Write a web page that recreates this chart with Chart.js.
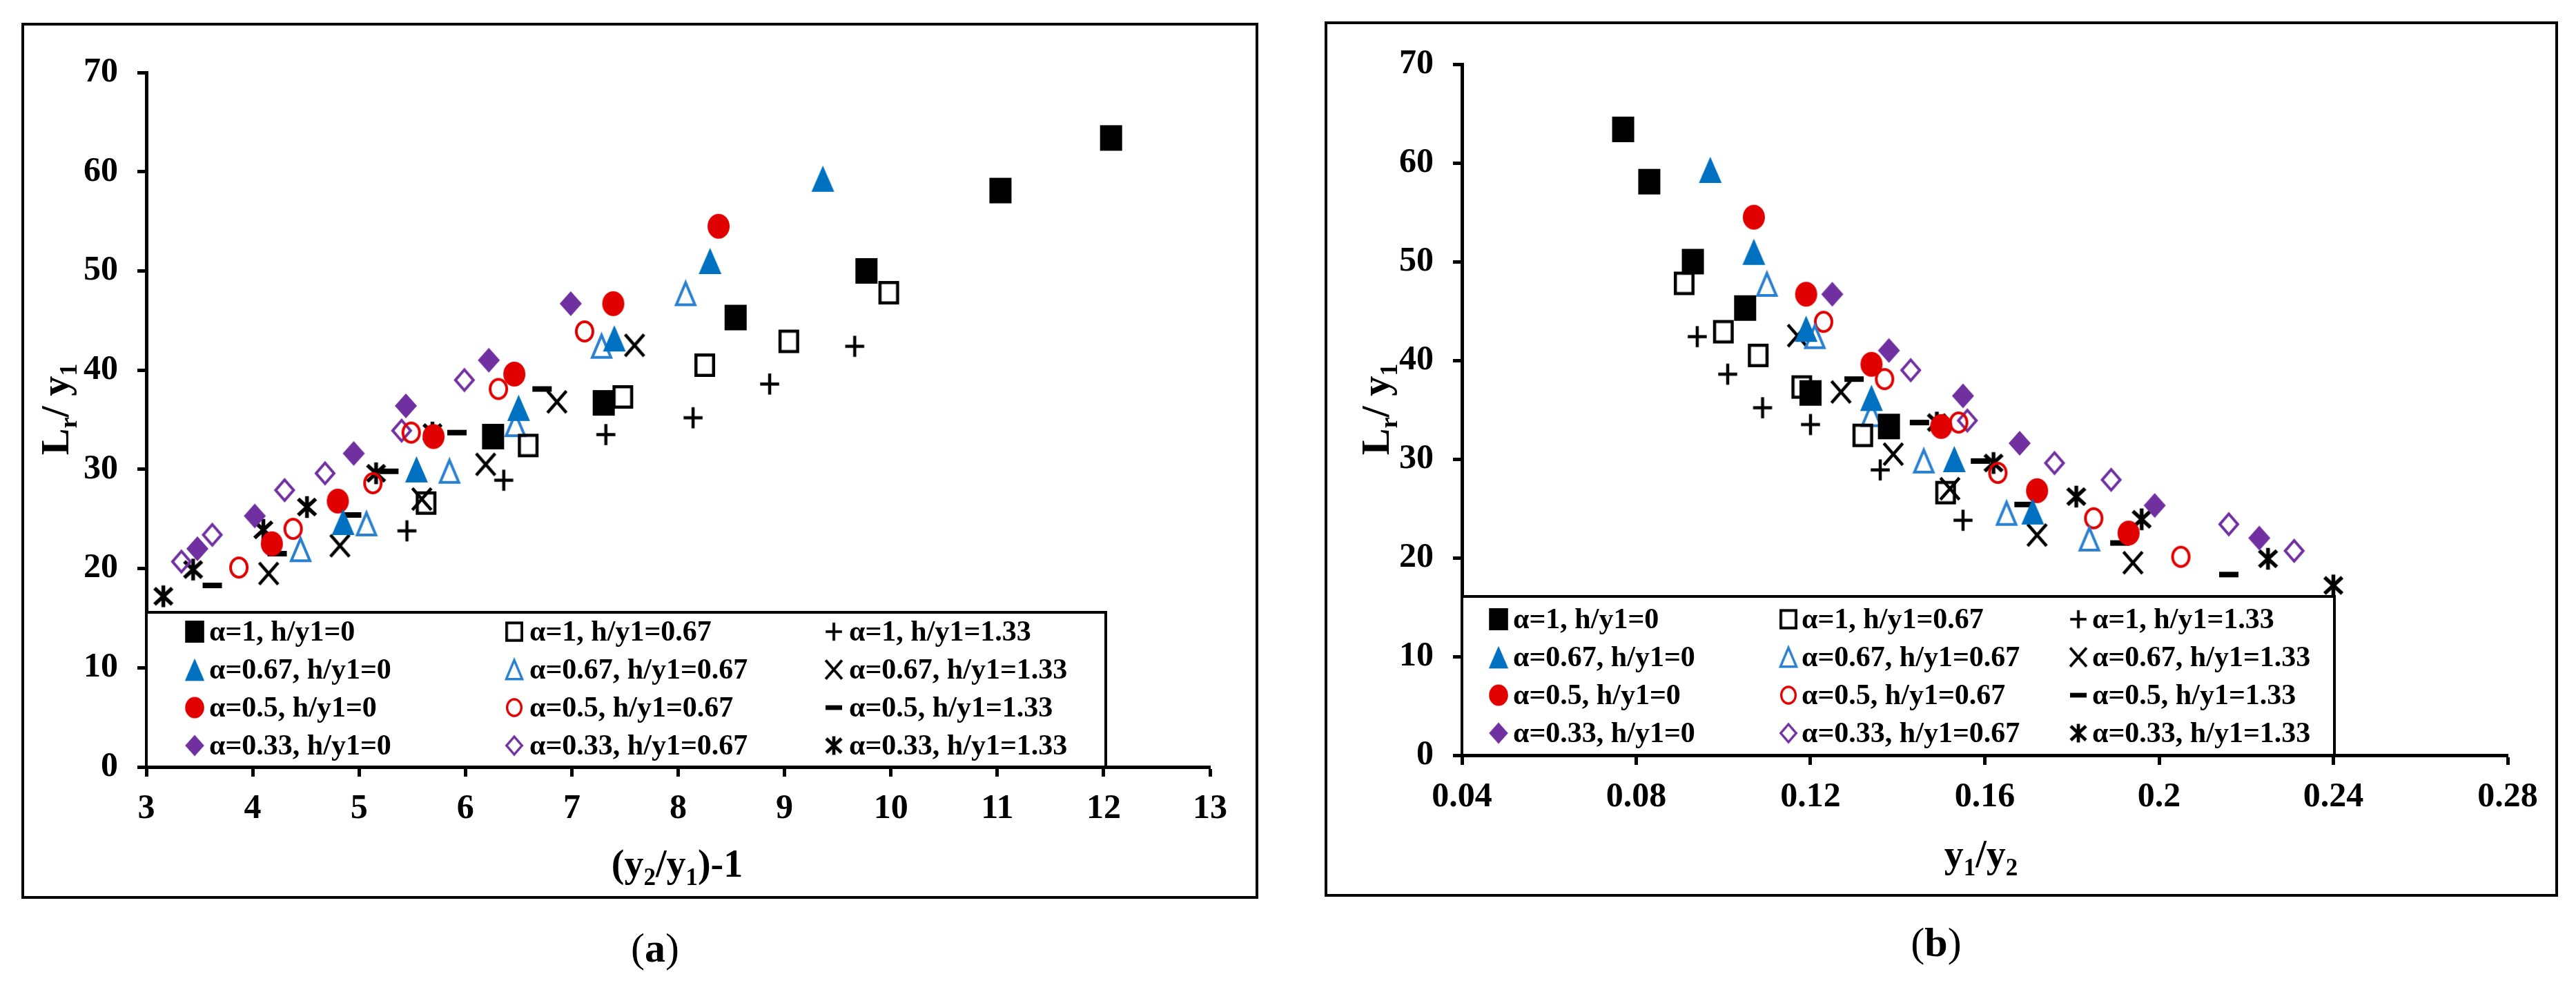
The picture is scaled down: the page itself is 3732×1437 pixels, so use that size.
<!DOCTYPE html>
<html>
<head>
<meta charset="utf-8">
<script src="https://cdn.jsdelivr.net/npm/chart.js@4.4.0/dist/chart.umd.min.js"></script>
<style>
    html, body { margin: 0; padding: 0; background: #fff; }
    body { width: 3732px; height: 1437px; position: relative; overflow: hidden; font-family: 'Liberation Serif', 'Times New Roman', serif; }
    .panel { position: absolute; box-sizing: border-box; border: 4px solid #000; background: #fff; }
    .panel canvas { position: absolute; left: 0; top: 0; }
    .cap { position: absolute; font-size: 60px; color: #000; transform: translate(-50%, -50%); white-space: nowrap; }
</style>
</head>
<body>
<div class="panel" style="left:31px;top:33px;width:1792px;height:1269px"><canvas id="chartA" width="1784" height="1261"></canvas></div>
<div class="panel" style="left:1919px;top:31px;width:1787px;height:1268px"><canvas id="chartB" width="1779" height="1260"></canvas></div>
<div class="cap" style="left:949px;top:1373px">(<b>a</b>)</div>
<div class="cap" style="left:2805px;top:1365px">(<b>b</b>)</div>
<script>
// legend labels (row = alpha, column = h/y1)
const seriesLabels = [
    'α=1, h/y1=0', 'α=1, h/y1=0.67', 'α=1, h/y1=1.33',
    'α=0.67, h/y1=0', 'α=0.67, h/y1=0.67', 'α=0.67, h/y1=1.33',
    'α=0.5, h/y1=0', 'α=0.5, h/y1=0.67', 'α=0.5, h/y1=1.33',
    'α=0.33, h/y1=0', 'α=0.33, h/y1=0.67', 'α=0.33, h/y1=1.33'
];

// Lr / y1 (same values in both panels)
const lr_a1_h0 = [33.3, 36.7, 45.3, 50.0, 58.1, 63.4];
const lr_a1_h067 = [26.6, 32.4, 37.3, 40.5, 42.9, 47.8];
const lr_a1_h133 = [23.8, 28.9, 33.5, 35.2, 38.6, 42.4];
const lr_a067_h0 = [24.7, 30.0, 36.2, 43.2, 51.0, 59.3];
const lr_a067_h067 = [21.9, 24.5, 29.8, 34.5, 42.4, 47.7];
const lr_a067_h133 = [19.5, 22.3, 27.0, 30.5, 36.8, 42.5];
const lr_a05_h0 = [22.5, 26.8, 33.3, 39.6, 46.7, 54.5];
const lr_a05_h067 = [20.1, 24.0, 28.6, 33.7, 38.1, 43.9];
const lr_a05_h133 = [18.3, 21.5, 25.4, 29.8, 33.7, 38.1];
const lr_a033_h0 = [22.0, 25.3, 31.6, 36.4, 41.0, 46.7];
const lr_a033_h067 = [20.7, 23.4, 27.9, 29.6, 33.9, 39.0];
const lr_a033_h133 = [17.2, 19.9, 23.9, 26.2, 29.6, 33.7];

// panel (a): (y2/y1)-1
const xa_a1_h0 = [6.26, 7.30, 8.54, 9.77, 11.03, 12.07];
const xa_a1_h067 = [5.63, 6.59, 7.48, 8.25, 9.04, 9.98];
const xa_a1_h133 = [5.45, 6.36, 7.32, 8.14, 8.86, 9.66];
const xa_a067_h0 = [4.85, 5.54, 6.50, 7.40, 8.30, 9.36];
const xa_a067_h067 = [4.45, 5.07, 5.85, 6.47, 7.28, 8.07];
const xa_a067_h133 = [4.15, 4.82, 5.59, 6.19, 6.86, 7.59];
const xa_a05_h0 = [4.18, 4.80, 5.70, 6.46, 7.39, 8.38];
const xa_a05_h067 = [3.87, 4.38, 5.13, 5.49, 6.31, 7.12];
const xa_a05_h133 = [3.62, 4.23, 4.93, 5.28, 5.92, 6.72];
const xa_a033_h0 = [3.48, 4.02, 4.95, 5.44, 6.22, 6.99];
const xa_a033_h067 = [3.33, 3.62, 4.30, 4.68, 5.40, 5.99];
const xa_a033_h133 = [3.16, 3.44, 4.10, 4.51, 5.16, 5.69];

// panel (b): y1/y2
const xb_a1_h0 = [0.138, 0.120, 0.105, 0.093, 0.083, 0.077];
const xb_a1_h067 = [0.151, 0.132, 0.118, 0.108, 0.100, 0.091];
const xb_a1_h133 = [0.155, 0.136, 0.120, 0.109, 0.101, 0.094];
const xb_a067_h0 = [0.171, 0.153, 0.134, 0.119, 0.107, 0.097];
const xb_a067_h067 = [0.184, 0.165, 0.146, 0.134, 0.121, 0.110];
const xb_a067_h133 = [0.194, 0.172, 0.152, 0.139, 0.127, 0.117];
const xb_a05_h0 = [0.193, 0.172, 0.150, 0.134, 0.119, 0.107];
const xb_a05_h067 = [0.205, 0.185, 0.163, 0.154, 0.137, 0.123];
const xb_a05_h133 = [0.216, 0.191, 0.169, 0.159, 0.145, 0.130];
const xb_a033_h0 = [0.223, 0.199, 0.168, 0.155, 0.138, 0.125];
const xb_a033_h067 = [0.231, 0.216, 0.189, 0.176, 0.156, 0.143];
const xb_a033_h133 = [0.240, 0.225, 0.196, 0.181, 0.162, 0.149];

const lrSeries = [lr_a1_h0, lr_a1_h067, lr_a1_h133, lr_a067_h0, lr_a067_h067, lr_a067_h133,
    lr_a05_h0, lr_a05_h067, lr_a05_h133, lr_a033_h0, lr_a033_h067, lr_a033_h133];
const xaSeries = [xa_a1_h0, xa_a1_h067, xa_a1_h133, xa_a067_h0, xa_a067_h067, xa_a067_h133,
    xa_a05_h0, xa_a05_h067, xa_a05_h133, xa_a033_h0, xa_a033_h067, xa_a033_h133];
const xbSeries = [xb_a1_h0, xb_a1_h067, xb_a1_h133, xb_a067_h0, xb_a067_h067, xb_a067_h133,
    xb_a05_h0, xb_a05_h067, xb_a05_h133, xb_a033_h0, xb_a033_h067, xb_a033_h133];

const BLACK = '#000000';
const BLUE = '#0070C0';
const BLUE_OPEN = '#2A80CF';
const RED = '#E00000';
const PURPLE = '#7030A0';
const FONT = '"Liberation Serif", "Times New Roman", serif';

// marker look for each series
const markerSpecs = [
    { kind: 'square', fill: true, color: BLACK, w: 32, h: 37 },
    { kind: 'square', fill: false, color: BLACK, w: 30, h: 34, lw: 4.5 },
    { kind: 'plus', color: BLACK, w: 32, h: 35, lw: 4.5 },
    { kind: 'triangle', fill: true, color: BLUE, w: 33, h: 38 },
    { kind: 'triangle', fill: false, color: BLUE_OPEN, w: 31, h: 36, lw: 4 },
    { kind: 'x', color: BLACK, w: 32, h: 36, lw: 4.5 },
    { kind: 'circle', fill: true, color: RED, w: 32, h: 36 },
    { kind: 'circle', fill: false, color: RED, w: 28, h: 32, lw: 4 },
    { kind: 'dash', color: BLACK, w: 28, h: 8 },
    { kind: 'diamond', fill: true, color: PURPLE, w: 32, h: 36 },
    { kind: 'diamond', fill: false, color: PURPLE, w: 30, h: 34, lw: 4 },
    { kind: 'asterisk', color: BLACK, w: 31, h: 37, lw: 5.5 }
];

function makeSprite(spec) {
    const lw = spec.lw || 0;
    const pad = 4;
    const c = document.createElement('canvas');
    c.width = spec.w + pad * 2;
    c.height = spec.h + pad * 2;
    const g = c.getContext('2d');
    g.translate(c.width / 2, c.height / 2);
    g.fillStyle = spec.color;
    g.strokeStyle = spec.color;
    g.lineWidth = lw;
    const a = spec.w / 2 - lw / 2, b = spec.h / 2 - lw / 2;
    g.beginPath();
    switch (spec.kind) {
        case 'square':
            g.rect(-a, -b, 2 * a, 2 * b);
            break;
        case 'triangle':
            g.moveTo(0, -b);
            g.lineTo(a, b);
            g.lineTo(-a, b);
            g.closePath();
            break;
        case 'circle':
            g.ellipse(0, 0, a, b, 0, 0, Math.PI * 2);
            break;
        case 'diamond':
            g.moveTo(0, -b);
            g.lineTo(a, 0);
            g.lineTo(0, b);
            g.lineTo(-a, 0);
            g.closePath();
            break;
        case 'plus':
            g.moveTo(-a, 0); g.lineTo(a, 0);
            g.moveTo(0, -b); g.lineTo(0, b);
            break;
        case 'x':
            g.moveTo(-a, -b); g.lineTo(a, b);
            g.moveTo(a, -b); g.lineTo(-a, b);
            break;
        case 'asterisk':
            g.moveTo(-a, -b * 0.75); g.lineTo(a, b * 0.75);
            g.moveTo(a, -b * 0.75); g.lineTo(-a, b * 0.75);
            g.moveTo(0, -b); g.lineTo(0, b);
            break;
        case 'dash':
            g.rect(-spec.w / 2, -spec.h / 2, spec.w, spec.h);
            break;
    }
    if (spec.kind === 'dash' || spec.fill) g.fill();
    else g.stroke();
    return c;
}

const sprites = markerSpecs.map(makeSprite);

// text with subscripts, centred on (0,0)
function drawRich(ctx, parts, size) {
    const subSize = Math.round(size * 0.62);
    let total = 0;
    parts.forEach(p => {
        ctx.font = `bold ${p[1] ? subSize : size}px ${FONT}`;
        total += ctx.measureText(p[0]).width;
    });
    let x = -total / 2;
    const base = size * 0.33;
    ctx.textAlign = 'left';
    ctx.textBaseline = 'alphabetic';
    parts.forEach(p => {
        ctx.font = `bold ${p[1] ? subSize : size}px ${FONT}`;
        ctx.fillText(p[0], x, p[1] ? base + size * 0.2 : base);
        x += ctx.measureText(p[0]).width;
    });
}

const boxLegendPlugin = {
    id: 'boxLegend',
    beforeDatasetsDraw(chart) {
        const o = chart.options.plugins.boxLegend;
        const ctx = chart.ctx;
        const area = chart.chartArea;
        const left = area.left, top = area.bottom - o.height;
        ctx.save();
        ctx.fillStyle = '#fff';
        ctx.fillRect(left, top, o.width, o.height);
        ctx.strokeStyle = '#000';
        ctx.lineWidth = 4;
        ctx.strokeRect(left, top, o.width, o.height);
        ctx.fillStyle = '#000';
        ctx.font = `bold ${o.fontSize}px ${FONT}`;
        ctx.textBaseline = 'middle';
        ctx.textAlign = 'left';
        seriesLabels.forEach((label, i) => {
            const row = Math.floor(i / 3), col = i % 3;
            const cy = top + o.rows[row];
            const img = sprites[i];
            const s = 0.86;
            ctx.drawImage(img, left + o.markerX[col] - img.width * s / 2, cy - img.height * s / 2, img.width * s, img.height * s);
            ctx.fillText(label, left + o.textX[col], cy + 2);
        });
        ctx.restore();
    },
    afterDraw(chart) {
        const o = chart.options.plugins.boxLegend;
        const ctx = chart.ctx;
        ctx.save();
        ctx.fillStyle = '#000';
        ctx.translate(o.xTitlePos[0], o.xTitlePos[1]);
        drawRich(ctx, o.xTitle, 56);
        ctx.restore();
        ctx.save();
        ctx.fillStyle = '#000';
        ctx.translate(o.yTitlePos[0], o.yTitlePos[1]);
        ctx.rotate(-Math.PI / 2);
        drawRich(ctx, o.yTitle, 58);
        ctx.restore();
    }
};

function makeChart(canvasId, xSeries, cfg) {
    const ctx = document.getElementById(canvasId).getContext('2d');
    const datasets = xSeries.map((xs, i) => ({
        label: seriesLabels[i],
        data: xs.map((x, j) => ({ x: x, y: lrSeries[i][j] })),
        pointStyle: sprites[i],
        pointRadius: 10,
        showLine: false,
        clip: false
    }));
    const tickFont = { family: FONT, size: 50, weight: 'bold' };
    return new Chart(ctx, {
        type: 'scatter',
        data: { datasets },
        options: {
            responsive: false,
            animation: false,
            devicePixelRatio: 1,
            events: [],
            layout: { autoPadding: false, padding: { left: 0, top: cfg.padTop, right: cfg.padRight, bottom: 0 } },
            plugins: {
                legend: { display: false },
                tooltip: { enabled: false },
                boxLegend: cfg.legend
            },
            scales: {
                x: {
                    type: 'linear', min: cfg.xMin, max: cfg.xMax,
                    ticks: { stepSize: cfg.xStep, font: tickFont, color: '#000', padding: 17, maxRotation: 0,
                        callback: v => String(+v.toFixed(2)) },
                    grid: { display: true, drawOnChartArea: false, drawTicks: true, tickLength: 14, tickWidth: 5, tickColor: '#000' },
                    border: { display: true, color: '#000', width: 5 },
                    afterFit: s => { s.height = cfg.bottomSpace; }
                },
                y: {
                    type: 'linear', min: 0, max: 70,
                    ticks: { stepSize: 10, font: tickFont, color: '#000', padding: 28 },
                    grid: { display: true, drawOnChartArea: false, drawTicks: true, tickLength: 13, tickWidth: 5, tickColor: '#000' },
                    border: { display: true, color: '#000', width: 5 },
                    afterFit: s => { s.width = cfg.leftSpace; }
                }
            }
        },
        plugins: [boxLegendPlugin]
    });
}

makeChart('chartA', xaSeries, {
    xMin: 3, xMax: 13, xStep: 1,
    padTop: 68, padRight: 66, leftSpace: 177, bottomSpace: 187,
    legend: {
        width: 1390, height: 224, fontSize: 42,
        rows: [28, 83, 138, 193], markerX: [70, 533, 996], textX: [91, 555, 1018],
        xTitle: [['(y', false], ['2', true], ['/y', false], ['1', true], [')-1', false]],
        yTitle: [['L', false], ['r', true], ['/ y', false], ['1', true]],
        xTitlePos: [946, 1215], yTitlePos: [45, 556]
    }
});

makeChart('chartB', xbSeries, {
    xMin: 0.04, xMax: 0.28, xStep: 0.04,
    padTop: 53, padRight: 69, leftSpace: 195, bottomSpace: 201,
    legend: {
        width: 1264, height: 230, fontSize: 42,
        rows: [33, 88, 143, 198], markerX: [53, 473, 893], textX: [74, 492, 913],
        xTitle: [['y', false], ['1', true], ['/y', false], ['2', true]],
        yTitle: [['L', false], ['r', true], ['/ y', false], ['1', true]],
        xTitlePos: [947, 1203], yTitlePos: [70, 558]
    }
});
</script>
</body>
</html>
